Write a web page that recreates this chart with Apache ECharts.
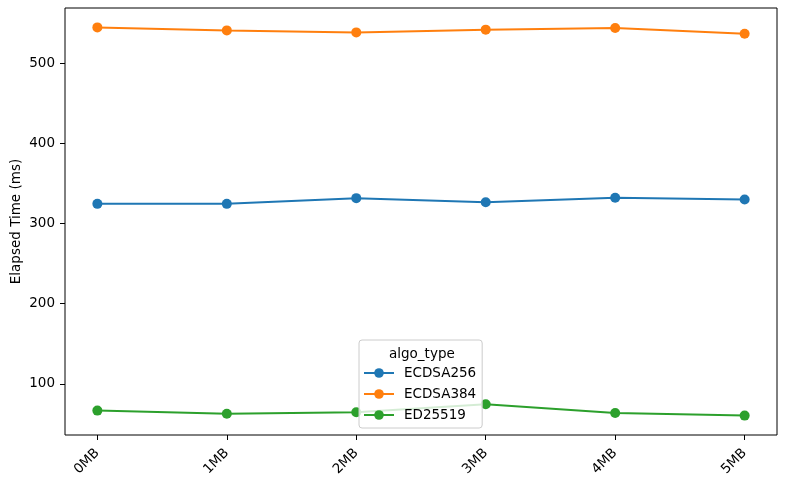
<!DOCTYPE html>
<html>
<head>
<meta charset="utf-8">
<script src="https://cdn.jsdelivr.net/npm/echarts@6/dist/echarts.min.js"></script>
<style>
  html, body { margin: 0; padding: 0; background: #fff; }
  #main { width: 788px; height: 484px; }
</style>
</head>
<body>
<div id="main"></div>
<script>
// payload sizes on the x axis
const categories = ['0MB', '1MB', '2MB', '3MB', '4MB', '5MB'];

// elapsed time (ms) per algorithm
const ecdsa256 = [324.5, 324.5, 331.6, 326.6, 332.0, 330.0];
const ecdsa384 = [544.4, 540.7, 538.2, 541.6, 543.6, 536.6];
const ed25519 = [66.8, 63.0, 64.7, 74.7, 63.9, 60.6];

const seriesNames = ['ECDSA256', 'ECDSA384', 'ED25519'];
const yTicks = [100, 200, 300, 400, 500];

const colors = ['#1f77b4', '#ff7f0e', '#2ca02c'];
const font = 'DejaVu Sans';

// matplotlib-like 5% margins
const all = ecdsa256.concat(ecdsa384, ed25519);
const lo = Math.min(...all), hi = Math.max(...all);
const yPad = (hi - lo) * 0.05;
const xPad = (categories.length - 1) * 0.05;
const xIdx = categories.map((c, i) => i);

function pairs(vals) {
  return vals.map((v, i) => [i, v]);
}

const chart = echarts.init(document.getElementById('main'), null, { renderer: 'canvas' });

const option = {
  animation: false,
  backgroundColor: '#fff',
  textStyle: { fontFamily: font },
  grid: {
    left: 65, right: 11, top: 8, bottom: 49,
    outerBoundsMode: 'none',
    containLabel: false,
    show: true,
    borderColor: '#000',
    borderWidth: 1
  },
  title: {
    text: 'algo_type',
    left: 384,
    top: 342,
    textStyle: { fontFamily: font, fontSize: 13.5, fontWeight: 'normal', color: '#000' },
    z: 12
  },
  legend: {
    orient: 'vertical',
    left: 359,
    top: 340,
    padding: [26, 6, 6, 4],
    backgroundColor: 'rgba(255,255,255,0.8)',
    borderColor: '#ccc',
    borderWidth: 1,
    borderRadius: 3,
    itemWidth: 30,
    itemHeight: 12,
    itemGap: 7,
    z: 10,
    textStyle: { fontFamily: font, fontSize: 13.5, color: '#000', padding: [0, 0, 0, 5] },
    data: seriesNames
  },
  xAxis: {
    type: 'value',
    min: -xPad,
    max: categories.length - 1 + xPad,
    axisLine: { show: false, onZero: false },
    splitLine: { show: false },
    axisTick: {
      show: true, length: 5, inside: false,
      lineStyle: { color: '#000' },
      customValues: xIdx
    },
    axisLabel: {
      customValues: xIdx,
      rotate: 45,
      margin: 16,
      fontFamily: font,
      fontSize: 13.5,
      color: '#000',
      formatter: v => categories[Math.round(v)]
    }
  },
  yAxis: {
    type: 'value',
    min: lo - yPad,
    max: hi + yPad,
    name: 'Elapsed Time (ms)',
    nameLocation: 'middle',
    nameGap: 42,
    nameMoveOverlap: false,
    nameTextStyle: { fontFamily: font, fontSize: 13.5, color: '#000' },
    axisLine: { show: false, onZero: false },
    splitLine: { show: false },
    axisTick: {
      show: true, length: 5, inside: false,
      lineStyle: { color: '#000' },
      customValues: yTicks
    },
    axisLabel: {
      customValues: yTicks,
      margin: 10,
      fontFamily: font,
      fontSize: 13.5,
      color: '#000'
    }
  },
  series: [ecdsa256, ecdsa384, ed25519].map((vals, k) => ({
    name: seriesNames[k],
    type: 'line',
    data: pairs(vals),
    symbol: 'circle',
    symbolSize: 10,
    color: colors[k],
    lineStyle: { width: 2, color: colors[k] },
    itemStyle: { color: colors[k] },
    z: 2
  }))
};

chart.setOption(option);
</script>
</body>
</html>
